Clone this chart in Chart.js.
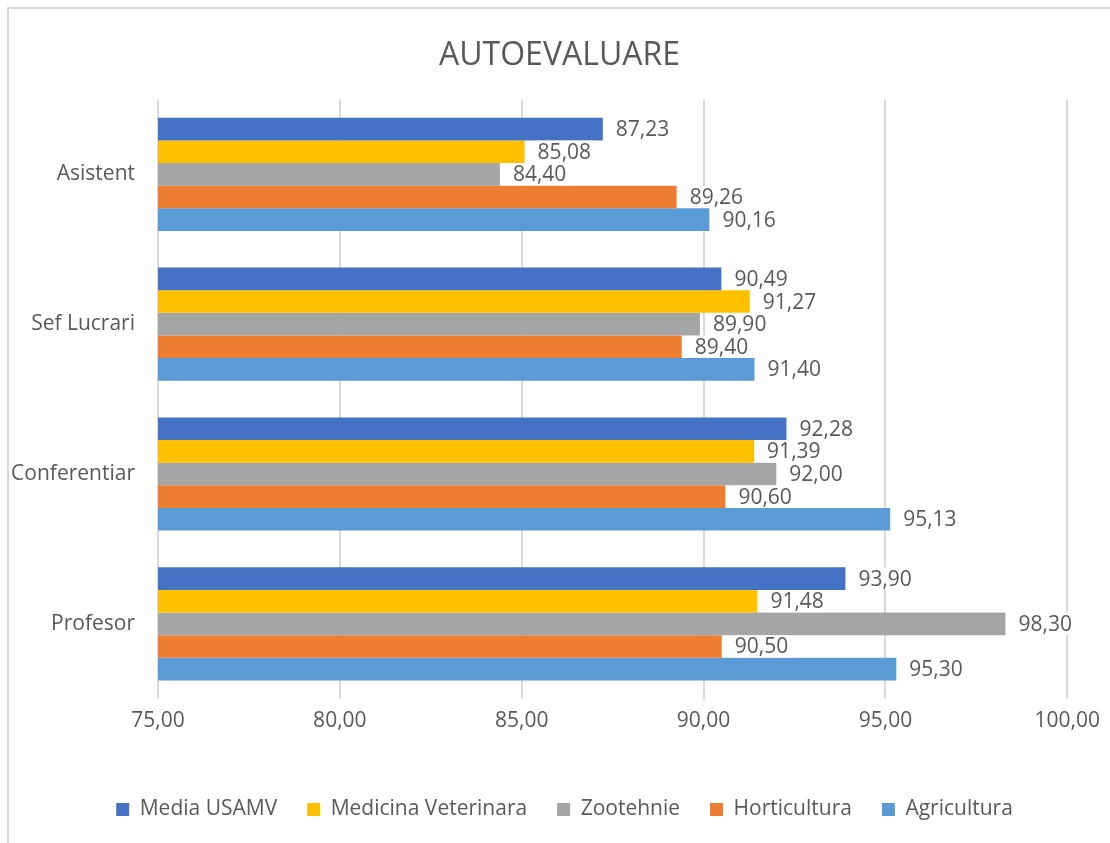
<!DOCTYPE html>
<html>
<head>
<meta charset="utf-8">
<script src="https://cdn.jsdelivr.net/npm/chart.js@4"></script>
<style>
  html, body { margin: 0; padding: 0; background: #fff; }
  #wrap { width: 1110px; height: 843px; position: relative; }
</style>
</head>
<body>
<div id="wrap"><canvas id="myChart"></canvas></div>
<script>
const categories = ['Asistent', 'Sef Lucrari', 'Conferentiar', 'Profesor'];

const mediaUsamv = [87.23, 90.49, 92.28, 93.90];
const medicinaVeterinara = [85.08, 91.27, 91.39, 91.48];
const zootehnie = [84.40, 89.90, 92.00, 98.30];
const horticultura = [89.26, 89.40, 90.60, 90.50];
const agricultura = [90.16, 91.40, 95.13, 95.30];

const seriesNames = ['Media USAMV', 'Medicina Veterinara', 'Zootehnie', 'Horticultura', 'Agricultura'];
const seriesValues = [mediaUsamv, medicinaVeterinara, zootehnie, horticultura, agricultura];
const seriesColors = ['#4472C4', '#FFC000', '#A5A5A5', '#ED7D31', '#5B9BD5'];

const textColor = '#595959';
const fontFamily = '"Open Sans", Lato, sans-serif';
const fontSize = 21;

const fmt = v => Number(v).toFixed(2).replace('.', ',');

// frame like the excel chart border
const framePlugin = {
    id: 'frame',
    beforeDraw(chart) {
        const ctx = chart.ctx;
        ctx.save();
        ctx.fillStyle = '#fff';
        ctx.fillRect(0, 0, chart.width, chart.height);
        ctx.strokeStyle = '#d9d9d9';
        ctx.lineWidth = 2;
        ctx.beginPath();
        ctx.moveTo(8, chart.height);
        ctx.lineTo(8, 8);
        ctx.lineTo(chart.width, 8);
        ctx.stroke();
        ctx.restore();
    }
};

// nudge the legend and title a bit right, like in the original
const boxShift = {
    id: 'boxShift',
    afterLayout(chart) {
        if (chart.legend) {
            chart.legend.left += 22;
            chart.legend.right += 22;
        }
        if (chart.titleBlock) {
            chart.titleBlock.left += 17;
            chart.titleBlock.right += 17;
        }
    }
};

// value labels to the right of each bar, on white boxes
const valueLabels = {
    id: 'valueLabels',
    afterDatasetsDraw(chart) {
        const ctx = chart.ctx;
        ctx.save();
        ctx.font = fontSize + 'px ' + fontFamily;
        ctx.textBaseline = 'middle';
        chart.data.datasets.forEach((ds, i) => {
            const meta = chart.getDatasetMeta(i);
            meta.data.forEach((bar, j) => {
                const txt = fmt(ds.data[j]);
                const w = ctx.measureText(txt).width;
                const x = bar.x + 10;
                ctx.fillStyle = '#fff';
                ctx.fillRect(x, bar.y - 11, w + 6, 22);
                ctx.fillStyle = textColor;
                ctx.fillText(txt, x + 3, bar.y + 1);
            });
        });
        ctx.restore();
    }
};

const data = {
    labels: categories,
    datasets: seriesNames.map((name, i) => ({
        label: name,
        data: seriesValues[i],
        backgroundColor: seriesColors[i],
        borderWidth: 0,
        categoryPercentage: 0.755,
        barPercentage: 1.0
    }))
};

const config = {
    type: 'bar',
    data: data,
    options: {
        indexAxis: 'y',
        responsive: false,
        animation: false,
        layout: {
            padding: { left: 10, right: 35, top: 10, bottom: 13 }
        },
        scales: {
            x: {
                min: 75,
                max: 100,
                ticks: {
                    stepSize: 5,
                    color: textColor,
                    font: { family: fontFamily, size: fontSize },
                    padding: 10,
                    callback: v => fmt(v)
                },
                grid: { color: '#d9d9d9', lineWidth: 2, drawTicks: false },
                border: { display: false },
                afterFit(scale) { scale.height += 25; }
            },
            y: {
                ticks: {
                    color: textColor,
                    font: { family: fontFamily, size: fontSize },
                    padding: 23
                },
                grid: { display: false, drawTicks: false },
                border: { display: false },
                afterFit(scale) { scale.width = 148; }
            }
        },
        plugins: {
            title: {
                display: true,
                text: 'AUTOEVALUARE',
                color: textColor,
                font: { family: fontFamily, size: 32, weight: 'normal' },
                padding: { top: 27, bottom: 24 }
            },
            legend: {
                position: 'bottom',
                labels: {
                    color: textColor,
                    font: { family: fontFamily, size: fontSize },
                    boxWidth: 13,
                    boxHeight: 13,
                    padding: 30
                }
            },
            tooltip: { enabled: false }
        }
    },
    plugins: [framePlugin, boxShift, valueLabels]
};

const canvas = document.getElementById('myChart');
canvas.width = 1110;
canvas.height = 843;
const myChart = new Chart(canvas.getContext('2d'), config);
</script>
</body>
</html>
